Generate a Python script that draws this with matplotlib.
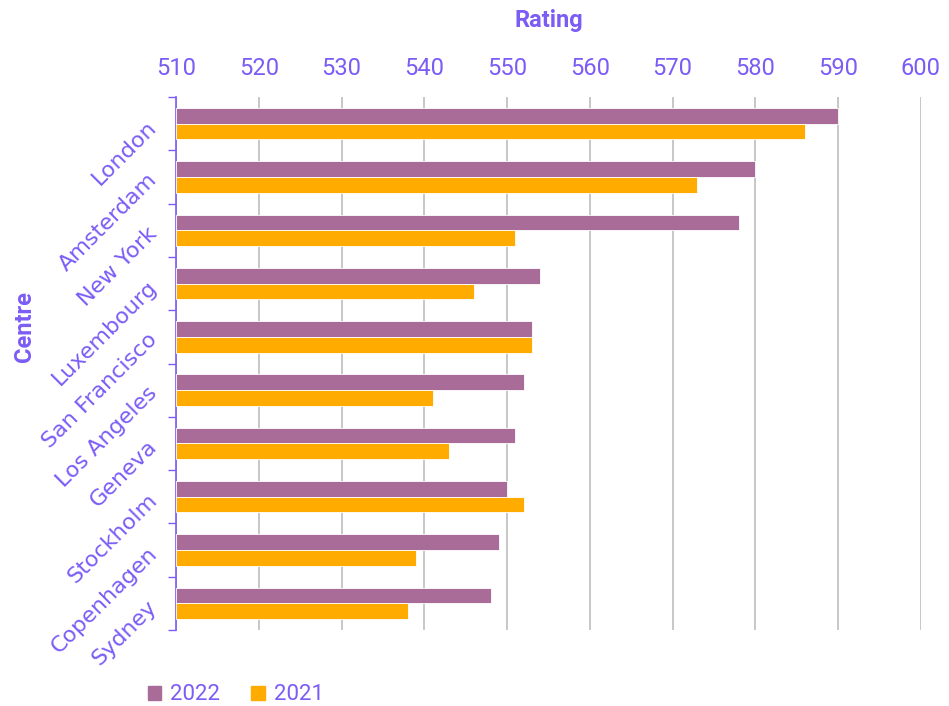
import numpy as np
import matplotlib.pyplot as plt
from matplotlib.patches import Patch

plt.rcParams['font.family'] = ['Roboto', 'DejaVu Sans']

centres = ['London', 'Amsterdam', 'New York', 'Luxembourg', 'San Francisco',
           'Los Angeles', 'Geneva', 'Stockholm', 'Copenhagen', 'Sydney']
rating_2022 = [590, 580, 578, 554, 553, 552, 551, 550, 549, 548]
rating_2021 = [586, 573, 551, 546, 553, 541, 543, 552, 539, 538]

txt = '#7B5CF5'
c22 = '#A96B98'
c21 = '#FFAB00'
base = 510

fig = plt.figure(figsize=(9.49, 7.06), dpi=100)
ax = fig.add_axes([176 / 949, 1 - 630 / 706, 745 / 949, 533 / 706])

y = np.arange(len(centres))
h = 0.295
ax.barh(y - h / 2, np.array(rating_2022) - base, left=base, height=h,
        color=c22, edgecolor='white', linewidth=0.6, zorder=3)
ax.barh(y + h / 2, np.array(rating_2021) - base, left=base, height=h,
        color=c21, edgecolor='white', linewidth=0.6, zorder=3)

ax.set_xlim(510, 600)
ax.set_ylim(len(centres) - 0.5, -0.5)
ax.set_xticks(np.arange(510, 601, 10))
ax.xaxis.tick_top()
ax.xaxis.set_label_position('top')
ax.tick_params(axis='x', colors=txt, labelsize=17, length=0, pad=12)
ax.grid(axis='x', color='#BEBEBE', linewidth=1.2, zorder=0)

# category ticks sit on the boundaries, labels in between
ax.set_yticks(np.arange(len(centres) + 1) - 0.5)
ax.set_yticklabels([])
ax.tick_params(axis='y', color=txt, length=6, width=1)
ax.set_yticks(y, minor=True)
ax.set_yticklabels(centres, minor=True, rotation=45, ha='right', va='center',
                   rotation_mode='anchor', color=txt, fontsize=16,
                   family=['DejaVu Sans'])
ax.tick_params(axis='y', which='minor', length=0, pad=16)

for s in ['top', 'right', 'bottom']:
    ax.spines[s].set_visible(False)
ax.spines['left'].set_color(txt)
ax.spines['left'].set_linewidth(1.2)

ax.set_xlabel('Rating', color=txt, fontsize=17, fontweight='bold', labelpad=22)
fig.text(25 / 949, 1 - 327 / 706, 'Centre', color=txt, fontsize=17,
         fontweight='bold', rotation=90, ha='center', va='center')

handles = [Patch(color=c22, label='2022'), Patch(color=c21, label='2021')]
fig.legend(handles=handles, loc='center left', bbox_to_anchor=(128 / 949, 1 - 695 / 706),
           ncol=2, frameon=False, fontsize=16, labelcolor=txt,
           handlelength=0.6, handleheight=0.6, handletextpad=0.4,
           columnspacing=1.4)

fig.savefig('out.png', dpi=100)
